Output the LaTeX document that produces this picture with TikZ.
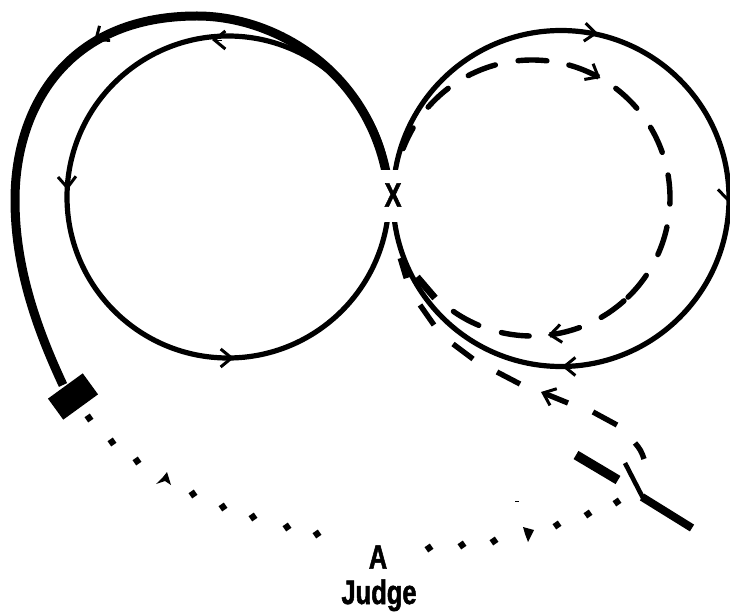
\documentclass[tikz,border=0pt]{standalone}
\usepackage{fontspec}
\newfontfamily\labfont[FakeStretch=0.75,FakeBold=1.5]{Liberation Sans Bold}
\usetikzlibrary{arrows.meta}
\tikzset{
  ring/.style={line width=5.2pt},
  heavy/.style={line width=9pt},
  dashseg/.style={line width=5.4pt,line cap=round},
  outerseg/.style={line width=5.4pt},
  barb/.style={-{Straight Barb[length=11pt,width=18pt,line width=3pt]}},
  label/.style={font=\labfont\fontsize{34}{34}\selectfont,inner sep=0pt},
  dotmark/.style={fill=black,minimum size=6.4pt,inner sep=0pt,rotate=35}
}
\newcommand{\darc}[3][]{\draw[dashseg,#1] plot[domain=#2:#3,samples=10,smooth] ({532+138*cos(\x)},{198+138*sin(\x)});}
\begin{document}
\begin{tikzpicture}[x=1pt,y=-1pt]
\useasboundingbox (0,0) rectangle (730,612);
% circles
\draw[ring] (228,197) circle[radius=161];
\draw[ring] (561,198.5) circle[radius=168];
% heavy path
\draw[heavy] (63,385) .. controls (35,325) and (15,265) .. (15,200)
  .. controls (15,110) and (65,16) .. (197,16)
  .. controls (275,16) and (365,70) .. (386,172);
\node[fill=black,minimum width=43pt,minimum height=26pt,inner sep=0pt,rotate=36] (box) at (73,396.5) {};
% ring arrows
\draw[barb] (222,40) -- (212,40);
\draw[barb] (67,178) -- (67.5,190);
\draw[barb] (224,358) -- (234,358);
\draw[barb] (588,32.5) -- (598,33.5);
\draw[barb] (727,190) -- (728,202);
\draw[barb] (572,366.5) -- (562,366.5);
\draw[barb] (105,33) -- (94,41);
% inner dashed circle
\darc{201}{210.5}
\darc{221.2}{232.6}
\darc{242.5}{254.6}
\darc{264.2}{276.2}
\darc[barb]{285.5}{299.7}
\darc{307.4}{319.4}
\darc{329.2}{340.7}
\darc{350.4}{362.5}
\darc{372.1}{384.2}
\darc{394.1}{405.9}
\darc{408.2}{419.9}
\darc[barb]{69.9}{83.4}
\darc{91.2}{102.8}
\darc{112.7}{124.7}
\draw[line width=7pt] (417,277) -- (435,298);
\draw[line width=7pt] (401,258) -- (407,278);
% outer dashed route
\draw[outerseg] (420,305) -- (434,325);
\draw[outerseg] (453,344) -- (473,359);
\draw[outerseg] (497,372) -- (520,384);
\draw[outerseg,barb] (568,403) -- (541,392);
\draw[outerseg] (593,412) -- (617,425);
\draw[outerseg] (635,443) to[bend left=12] (644,459);
% marks at the right
\draw[line width=9.5pt] (576,455) -- (618,480);
\draw[line width=4.6pt] (625,463) -- (643,498);
\draw[line width=8pt] (642,497) -- (692,528);
% dotted route
\foreach \p/\n in {(89,418)/a,(112,442)/b,(137,461)/c,(193,494)/d,(223,507)/e,(253,517)/f,(287,527)/g,(317,534)/h,(429,548)/i,(462,545)/j,(494,541)/k,(557,525)/l,(588,514)/m,(617,502)/n}
  \node[dotmark] (dot\n) at \p {};
\fill (167,472) -- (171,485) -- (165,481) -- (156,484) -- (163,477) -- cycle;
\fill (523,527) -- (534,530) -- (528,542) -- (525,534) -- cycle;
\fill (515,500.5) rectangle (519,501.5);
% labels
\node[fill=white,minimum width=40pt,minimum height=52pt,inner sep=0pt] (Xbg) at (393,196) {};
\node[label] (X) at (393,195) {X};
\node[label] (A) at (378,557) {A};
\node[label,anchor=base] (J) at (379,604) {Judge};
\end{tikzpicture}
\end{document}
